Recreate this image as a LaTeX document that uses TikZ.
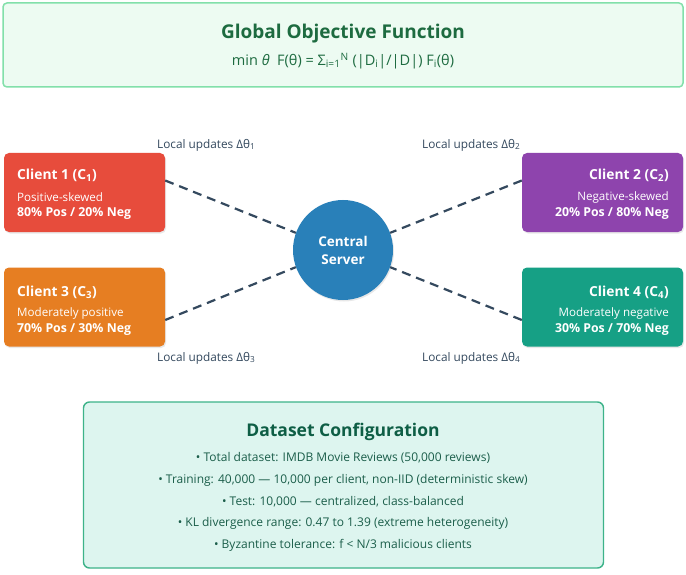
\documentclass[tikz,border=0pt]{standalone}
\usepackage{fontspec}
\setmainfont{Open Sans}
\usetikzlibrary{shadows}
\definecolor{topborder}{HTML}{82E0AA}
\definecolor{topfill}{HTML}{EDFBF2}
\definecolor{toptitle}{HTML}{1D6B40}
\definecolor{cred}{HTML}{E74C3C}
\definecolor{cpurple}{HTML}{8E44AD}
\definecolor{corange}{HTML}{E67E22}
\definecolor{cteal}{HTML}{16A085}
\definecolor{cserver}{HTML}{2980B9}
\definecolor{linkcol}{HTML}{34495E}
\definecolor{botborder}{HTML}{3DB389}
\definecolor{botfill}{HTML}{DDF5EF}
\definecolor{bottitle}{HTML}{0E5E45}
\definecolor{bottext}{HTML}{1B5E4A}
\tikzset{
  clientbox/.style={rounded corners=5pt, minimum width=161pt, minimum height=79pt, inner sep=0pt,
    drop shadow={opacity=0.18, shadow xshift=1pt, shadow yshift=-1.5pt}},
  clienttext/.style={text=white, inner sep=0pt},
  link/.style={draw=linkcol, line width=2.2pt, dash pattern=on 9pt off 6pt},
  updlabel/.style={text=linkcol, font=\fontsize{11.8}{14}\selectfont, inner sep=0pt},
  bullet/.style={text=bottext, font=\fontsize{12}{14}\selectfont, inner sep=0pt},
}
\begin{document}
\begin{tikzpicture}[x=1pt,y=-1pt]
\useasboundingbox[fill=white] (0,0) rectangle (686,575);
% top box
\node[draw=topborder, line width=1.5pt, fill=topfill, rounded corners=4pt,
  minimum width=680pt, minimum height=84pt, inner sep=0pt] (top) at (343,45) {};
\node[text=toptitle, font=\bfseries\fontsize{19}{22}\selectfont, inner sep=0pt] (toptitle) at (343,34) {Global Objective Function};
\node[text=toptitle, font=\fontsize{14.5}{17}\selectfont, inner sep=0pt] (formula) at (343,61)
  {min {\itshape θ}\ \ F(θ) = Σ\textsubscript{i=1}\textsuperscript{N} (|D\textsubscript{i}|/|D|) F\textsubscript{i}(θ)};
% clients
\node[clientbox, fill=cred] (c1) at (84.5,192.5) {};
\node[clientbox, fill=cpurple] (c2) at (602.5,192.5) {};
\node[clientbox, fill=corange] (c3) at (84.5,307) {};
\node[clientbox, fill=cteal] (c4) at (602.5,307) {};
% client texts
\node[clienttext, anchor=west, font=\bfseries\fontsize{13.8}{16}\selectfont] (c1a) at (17,175) {Client 1 (C\textsubscript{1})};
\node[clienttext, anchor=west, font=\fontsize{11.6}{14}\selectfont] (c1b) at (17,197) {Positive-skewed};
\node[clienttext, anchor=west, font=\bfseries\fontsize{12.3}{14}\selectfont] (c1c) at (17,214) {80\% Pos / 20\% Neg};
\node[clienttext, anchor=east, font=\bfseries\fontsize{13.8}{16}\selectfont] (c2a) at (669,175) {Client 2 (C\textsubscript{2})};
\node[clienttext, anchor=east, font=\fontsize{11.6}{14}\selectfont] (c2b) at (669,197) {Negative-skewed};
\node[clienttext, anchor=east, font=\bfseries\fontsize{12.3}{14}\selectfont] (c2c) at (669,214) {20\% Pos / 80\% Neg};
\node[clienttext, anchor=west, font=\bfseries\fontsize{13.8}{16}\selectfont] (c3a) at (17,292) {Client 3 (C\textsubscript{3})};
\node[clienttext, anchor=west, font=\fontsize{11.6}{14}\selectfont] (c3b) at (17,313) {Moderately positive};
\node[clienttext, anchor=west, font=\bfseries\fontsize{12.3}{14}\selectfont] (c3c) at (17,330) {70\% Pos / 30\% Neg};
\node[clienttext, anchor=east, font=\bfseries\fontsize{13.8}{16}\selectfont] (c4a) at (669,292) {Client 4 (C\textsubscript{4})};
\node[clienttext, anchor=east, font=\fontsize{11.6}{14}\selectfont] (c4b) at (669,313) {Moderately negative};
\node[clienttext, anchor=east, font=\bfseries\fontsize{12.3}{14}\selectfont] (c4c) at (669,330) {30\% Pos / 70\% Neg};
% server
\node[circle, fill=cserver, minimum size=100pt, inner sep=0pt, align=center,
  text=white, font=\bfseries\fontsize{13.5}{18}\selectfont,
  drop shadow={opacity=0.18, shadow xshift=1pt, shadow yshift=-1.5pt}] (server) at (343,250) {Central\\Server};
% links
\coordinate (c1e) at ([yshift=12pt]c1.east);
\coordinate (c2e) at ([yshift=12pt]c2.west);
\coordinate (c3e) at ([yshift=-13pt]c3.east);
\coordinate (c4e) at ([yshift=-13pt]c4.west);
\draw[link] (c1e) -- (server.160);
\draw[link] (c2e) -- (server.20);
\draw[link] (c3e) -- (server.200);
\draw[link] (c4e) -- (server.-20);
% update labels
\node[updlabel, anchor=west] (u1) at (157,145) {Local updates Δθ\textsubscript{1}};
\node[updlabel, anchor=west] (u2) at (422,145) {Local updates Δθ\textsubscript{2}};
\node[updlabel, anchor=west] (u3) at (157,358) {Local updates Δθ\textsubscript{3}};
\node[updlabel, anchor=west] (u4) at (422,358) {Local updates Δθ\textsubscript{4}};
% bottom box
\node[draw=botborder, line width=1.4pt, fill=botfill, rounded corners=6pt,
  minimum width=520pt, minimum height=166pt, inner sep=0pt] (bot) at (343.5,485) {};
\node[text=bottitle, font=\bfseries\fontsize{17.5}{20}\selectfont, inner sep=0pt] (bottitle) at (343,432) {Dataset Configuration};
\node[bullet] (b1) at (343,458) {• Total dataset: IMDB Movie Reviews (50,000 reviews)};
\node[bullet] (b2) at (343,480) {• Training: 40,000 — 10,000 per client, non-IID (deterministic skew)};
\node[bullet] (b3) at (343,502) {• Test: 10,000 — centralized, class-balanced};
\node[bullet] (b4) at (343,523) {• KL divergence range: 0.47 to 1.39 (extreme heterogeneity)};
\node[bullet] (b5) at (343,545) {• Byzantine tolerance: f < N/3 malicious clients};
\end{tikzpicture}
\end{document}
